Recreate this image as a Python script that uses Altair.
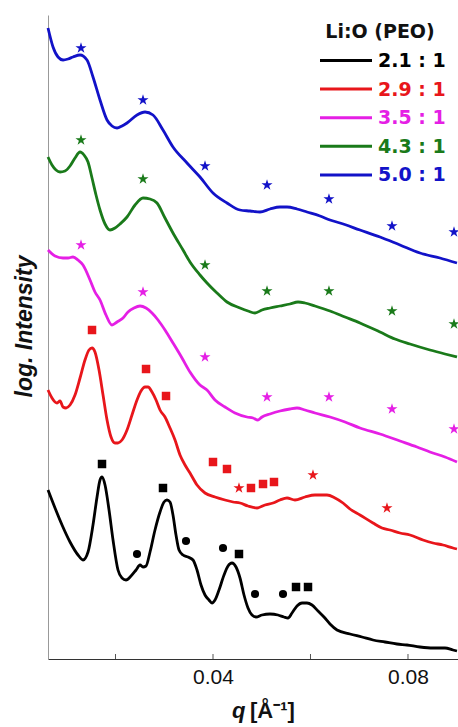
import altair as alt
import pandas as pd

series = ["2.1 : 1", "2.9 : 1", "3.5 : 1", "4.3 : 1", "5.0 : 1"]
colors = ["#000000", "#e8161b", "#e51fe5", "#1a7a1a", "#1212c8"]

# q values in units of 1e-3 Å^-1, log intensity in arbitrary (offset) units
q_21 = [6.15, 7.59, 9.03, 10.67, 12.31, 13.33, 14.36, 15.38, 16.21, 16.82, 17.23, 17.85, 18.67, 19.49, 20.51,
        21.33, 22.15, 23.18, 24.21, 25.03, 25.64, 26.26, 27.08, 28.10, 29.13, 29.95, 30.56, 31.18, 31.79, 32.41,
        33.03, 33.85, 34.87, 35.90, 36.72, 37.54, 38.36, 39.18, 39.79, 40.41, 41.23, 42.26, 43.08, 43.90, 44.72,
        45.54, 46.36, 47.18, 48.00, 48.82, 50.05, 51.69, 53.33, 54.56, 55.38, 56.21, 57.23, 58.26, 59.28, 60.31,
        61.54, 62.77, 64.00, 65.44, 68.10, 70.56, 72.82, 75.28, 77.74, 79.79, 82.46, 85.13, 87.59, 89.23, 90.05]
i_21 = [169, 151, 134, 117, 104, 99, 107, 134, 162, 179, 182, 174, 149, 119, 89,
        81, 79, 83, 89, 94, 92, 93, 107, 129, 147, 157, 159, 157, 144, 124,
        109, 104, 102, 99, 89, 74, 64, 59, 56, 59, 69, 84, 93, 96, 92,
        81, 64, 51, 44, 42, 44, 45, 44, 42, 41, 46, 53, 56, 56, 54,
        48, 42, 35, 29, 25, 22, 19, 17, 15, 14, 12, 11, 11, 9, 8]

q_29 = [6.15, 6.97, 7.59, 8.00, 8.62, 9.23, 9.85, 10.67, 11.69, 12.72, 13.74, 14.56, 15.18, 15.79, 16.62,
        17.44, 18.26, 19.08, 19.90, 20.51, 21.33, 22.36, 23.38, 24.41, 25.23, 26.05, 26.67, 27.49, 28.31, 29.13,
        30.15, 31.18, 32.21, 33.23, 34.26, 35.28, 36.72, 38.36, 40.41, 42.46, 44.10, 45.54, 47.18, 49.03, 50.67,
        52.31, 53.74, 55.18, 56.82, 58.87, 60.92, 63.38, 65.03, 66.67, 68.10, 70.15, 72.82, 74.67, 76.31, 78.36,
        80.41, 83.08, 85.13, 87.18, 89.23, 90.05]
i_29 = [269, 261, 257, 256, 258, 252, 251, 254, 264, 281, 299, 309, 311, 307, 289,
        264, 239, 222, 216, 216, 219, 229, 244, 259, 268, 272, 272, 267, 259, 249,
        242, 231, 219, 204, 194, 186, 174, 166, 162, 159, 157, 156, 153, 151, 154,
        156, 159, 161, 159, 162, 164, 164, 161, 156, 150, 144, 136, 131, 129, 126,
        124, 119, 116, 114, 111, 110]

q_35 = [6.15, 7.59, 9.23, 10.26, 11.28, 12.31, 13.33, 14.77, 15.79, 16.82, 18.05, 19.28, 20.31, 21.54, 22.56,
        23.79, 25.03, 26.26, 27.49, 28.72, 30.15, 31.79, 33.64, 35.28, 37.33, 38.77, 40.41, 42.46, 44.51, 46.97,
        48.21, 49.23, 50.05, 51.69, 53.74, 55.79, 57.23, 58.87, 60.92, 64.00, 67.08, 70.15, 74.26, 78.36, 81.85,
        84.51, 87.59, 90.05]
i_35 = [409, 403, 401, 401, 402, 399, 394, 379, 367, 359, 344, 334, 337, 341, 347,
        351, 353, 351, 346, 339, 329, 316, 301, 287, 274, 269, 259, 252, 246, 242,
        241, 239, 242, 245, 248, 250, 251, 249, 246, 242, 237, 231, 225, 218, 212,
        207, 202, 197]

q_43 = [6.15, 6.97, 7.79, 8.62, 9.64, 10.67, 11.69, 12.72, 13.54, 14.36, 15.18, 16.00, 16.82, 17.85, 18.87,
        19.90, 20.92, 22.36, 24.00, 25.64, 27.08, 28.51, 30.15, 31.79, 33.85, 35.28, 37.33, 38.77, 40.82, 42.87,
        45.54, 47.18, 48.62, 50.05, 51.69, 53.74, 55.79, 57.44, 58.87, 60.92, 64.00, 67.08, 70.15, 74.26, 77.33,
        80.41, 84.51, 87.59, 90.05]
i_43 = [502, 494, 489, 487, 488, 493, 501, 507, 504, 497, 481, 464, 449, 435, 429,
        431, 435, 442, 454, 461, 460, 456, 441, 426, 409, 397, 384, 376, 366, 357,
        351, 348, 346, 349, 351, 353, 355, 357, 356, 353, 348, 342, 336, 327, 320,
        315, 309, 305, 302]

q_50 = [6.15, 7.18, 8.21, 9.23, 10.26, 11.28, 12.72, 14.15, 15.38, 16.82, 18.26, 19.28, 20.31, 21.33, 22.36,
        24.41, 26.05, 27.69, 29.74, 31.79, 34.67, 37.33, 40.00, 42.87, 45.54, 47.59, 49.64, 51.69, 53.74, 55.18,
        57.23, 59.28, 61.95, 64.00, 66.05, 70.15, 74.26, 78.36, 82.46, 86.56, 90.05]
i_50 = [631, 612, 602, 599, 600, 602, 604, 599, 582, 559, 539, 533, 531, 533, 536,
        544, 547, 544, 529, 512, 496, 482, 466, 456, 449, 448, 447, 450, 452, 452,
        450, 447, 443, 439, 436, 429, 422, 414, 406, 401, 396]

# Peak markers (q in 1e-3 Å^-1)
star_q_50 = [12.92, 25.64, 38.36, 51.08, 63.79, 76.72, 89.44]
star_i_50 = [611, 559, 493, 474, 460, 433, 427]
star_q_43 = [12.92, 25.64, 38.36, 51.08, 63.79, 76.72, 89.44]
star_i_43 = [519, 480, 394, 368, 368, 348, 335]
star_q_35 = [12.92, 25.64, 38.36, 51.08, 63.79, 76.72, 89.44]
star_i_35 = [414, 367, 302, 262, 262, 250, 230]
star_q_29 = [45.33, 60.51, 75.69]
star_i_29 = [171, 184, 151]
square_q_29 = [15.18, 26.26, 30.36, 40.00, 42.87, 47.79, 50.26, 52.51]
square_i_29 = [329, 290, 263, 197, 190, 171, 175, 177]
square_q_21 = [17.23, 29.74, 45.33, 57.03, 59.49]
square_i_21 = [195, 171, 105, 72, 72]
circle_q_21 = [24.41, 34.46, 42.05, 48.62, 54.36]
circle_i_21 = [105, 118, 111, 65, 65]

x_ticks = [0.02, 0.04, 0.06, 0.08]
x_labels = [0.04, 0.08]

# five-pointed star glyph in the unit square (-1..1), Vega custom symbol path
STAR = ("M0,-1L0.2245,-0.309L0.951,-0.309L0.363,0.118L0.588,0.809L0,0.382"
        "L-0.588,0.809L-0.363,0.118L-0.951,-0.309L-0.2245,-0.309Z")

curves = [(series[0], q_21, i_21), (series[1], q_29, i_29), (series[2], q_35, i_35),
          (series[3], q_43, i_43), (series[4], q_50, i_50)]
rows = []
for s, qs, ys in curves:
    for q, y in zip(qs, ys):
        rows.append({"series": s, "q": q / 1000.0, "val": y})
lines_df = pd.DataFrame(rows)

def mk(entries):
    r = []
    for s, qs, ys in entries:
        for q, y in zip(qs, ys):
            r.append({"series": s, "q": q / 1000.0, "val": y})
    return pd.DataFrame(r)

stars_df = mk([(series[4], star_q_50, star_i_50), (series[3], star_q_43, star_i_43),
               (series[2], star_q_35, star_i_35), (series[1], star_q_29, star_i_29)])
squares_df = mk([(series[1], square_q_29, square_i_29), (series[0], square_q_21, square_i_21)])
circles_df = mk([(series[0], circle_q_21, circle_i_21)])

xscale = alt.Scale(domain=[0.00615, 0.09026], nice=False, zero=False)
yscale = alt.Scale(domain=[0, 644], nice=False, zero=False)
cscale = alt.Scale(domain=series, range=colors)

x_main = alt.X("q:Q", scale=xscale,
               axis=alt.Axis(values=x_labels, format=".2f", ticks=False, grid=False,
                             domainColor="#333333",
                             labelFontSize=21, labelFont="Liberation Sans", labelColor="#111111",
                             labelPadding=7, title=""))
y_main = alt.Y("val:Q", scale=yscale,
               axis=alt.Axis(ticks=False, labels=False, grid=False, domainColor="#999999",
                             title="log. Intensity", titleFont="Liberation Sans", titleFontSize=23,
                             titleFontStyle="italic", titleFontWeight="bold", titleColor="#111111",
                             titleX=-24, titleY=311, titleBaseline="middle"))
x_plain = alt.X("q:Q", scale=xscale)
y_plain = alt.Y("val:Q", scale=yscale)
col = alt.Color("series:N", scale=cscale, legend=None)

lines = alt.Chart(lines_df).mark_line(strokeWidth=2.8, interpolate="monotone").encode(
    x=x_main, y=y_main, color=col)

stars = alt.Chart(stars_df).mark_point(shape=STAR, filled=True, opacity=1, size=135).encode(
    x=x_plain, y=y_plain, color=col)
squares = alt.Chart(squares_df).mark_point(shape="square", filled=True, opacity=1, size=72).encode(
    x=x_plain, y=y_plain, color=col)
circles = alt.Chart(circles_df).mark_point(shape="circle", filled=True, opacity=1, size=66).encode(
    x=x_plain, y=y_plain, color=col)

ticks = alt.Chart(pd.DataFrame({"q": x_ticks})).mark_rule(color="#555555", strokeWidth=1).encode(
    x=x_plain, y=alt.value(644), y2=alt.value(639))

legend_layers = []
legend_layers.append(
    alt.Chart(pd.DataFrame({"t": ["Li:O (PEO)"]})).mark_text(
        font="DejaVu Sans", fontWeight="bold", fontSize=19, color="#111111",
        align="center", baseline="middle").encode(text="t:N", x=alt.value(332), y=alt.value(17)))
for i, (s, c) in enumerate(zip(series, colors)):
    yy = 45.5 + 28.6 * i
    legend_layers.append(
        alt.Chart(pd.DataFrame({"t": [s]})).mark_rule(color=c, strokeWidth=3).encode(
            x=alt.value(272), x2=alt.value(324), y=alt.value(yy)))
    legend_layers.append(
        alt.Chart(pd.DataFrame({"t": [s]})).mark_text(
            font="DejaVu Sans", fontWeight="bold", fontSize=19, color=c,
            align="left", baseline="middle").encode(text="t:N", x=alt.value(330), y=alt.value(yy + 0.5)))

xt1 = alt.Chart(pd.DataFrame({"t": ["q"]})).mark_text(
    font="Liberation Sans", fontWeight="bold", fontStyle="italic", fontSize=22, color="#111111",
    align="left", baseline="alphabetic").encode(text="t:N", x=alt.value(184), y=alt.value(703))
xt2 = alt.Chart(pd.DataFrame({"t": ["[Å⁻¹]"]})).mark_text(
    font="Liberation Sans", fontWeight="bold", fontSize=22, color="#111111",
    align="left", baseline="alphabetic").encode(text="t:N", x=alt.value(202), y=alt.value(703))

chart = alt.layer(lines, ticks, stars, squares, circles, *legend_layers, xt1, xt2).properties(
    width=410, height=644,
    padding={"left": 48, "top": 15, "right": 0, "bottom": 68},
    autosize=alt.AutoSizeParams(type="none"),
).configure_view(stroke=None)

chart.save("out.html", embed_options={"renderer": "svg", "actions": False})
